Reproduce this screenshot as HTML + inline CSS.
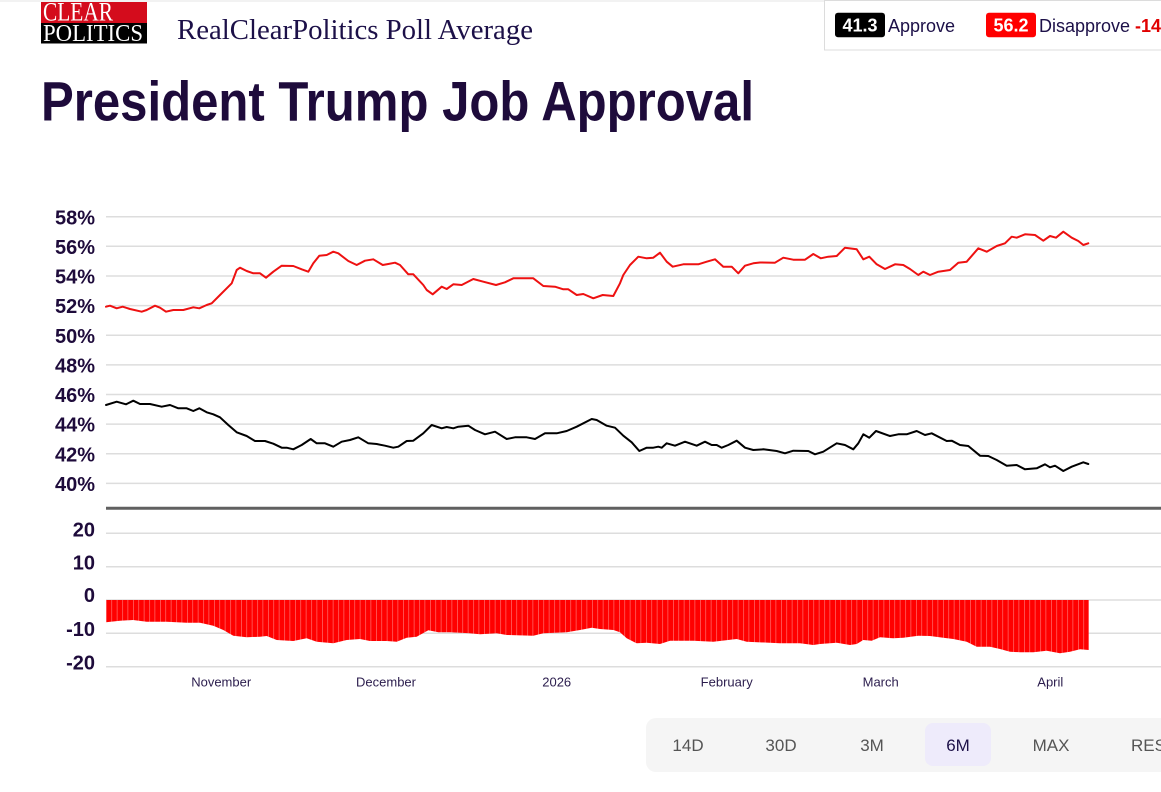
<!DOCTYPE html>
<html><head><meta charset="utf-8"><style>
html,body{margin:0;padding:0;background:#fff;width:1161px;height:792px;overflow:hidden}
svg{display:block}
</style></head><body>
<svg width="1161" height="792" viewBox="0 0 1161 792" xmlns="http://www.w3.org/2000/svg">
<defs>
<pattern id="bp" patternUnits="userSpaceOnUse" x="106" y="0" width="5.4" height="20">
<rect x="0" y="0" width="5.4" height="20" fill="#ff0000"/>
<rect x="0" y="0" width="0.6" height="20" fill="#ff8080"/>
</pattern>
</defs>
<!-- top border -->
<line x1="0" y1="1" x2="1161" y2="1" stroke="#e6e6e6" stroke-width="1"/>
<!-- logo -->
<rect x="41" y="2" width="106" height="21" fill="#d40c1c"/>
<rect x="41" y="23" width="106" height="20.5" fill="#000"/>
<text x="43" y="20.5" font-family="Liberation Serif, serif" font-size="26" fill="#fff" textLength="70" lengthAdjust="spacingAndGlyphs">CLEAR</text>
<text x="43" y="41" font-family="Liberation Serif, serif" font-size="24" fill="#fff" textLength="100" lengthAdjust="spacingAndGlyphs">POLITICS</text>
<text x="177" y="39" font-family="Liberation Serif, serif" font-size="28" fill="#1c1048" textLength="356" lengthAdjust="spacingAndGlyphs">RealClearPolitics Poll Average</text>
<!-- top right box -->
<rect x="824.5" y="0.5" width="400" height="49.5" fill="#fff" stroke="#dcdcdc" stroke-width="1"/>
<rect x="835" y="12.7" width="50" height="24.6" rx="3" fill="#000"/>
<text x="860" y="31.7" text-anchor="middle" font-family="Liberation Sans, sans-serif" font-weight="bold" font-size="18" fill="#fff">41.3</text>
<text x="888" y="32" font-family="Liberation Sans, sans-serif" font-size="18" fill="#1c1048">Approve</text>
<rect x="986" y="12.7" width="50" height="24.6" rx="3" fill="#ff0000"/>
<text x="1011" y="31.7" text-anchor="middle" font-family="Liberation Sans, sans-serif" font-weight="bold" font-size="18" fill="#fff">56.2</text>
<text x="1039" y="32" font-family="Liberation Sans, sans-serif" font-size="18" fill="#1c1048">Disapprove</text>
<text x="1135" y="32" font-family="Liberation Sans, sans-serif" font-weight="bold" font-size="18" fill="#e00000">-14</text>
<!-- title -->
<text x="41" y="120.7" font-family="Liberation Sans, sans-serif" font-weight="bold" font-size="56" fill="#1e0b3b" textLength="713" lengthAdjust="spacingAndGlyphs">President Trump Job Approval</text>

<!-- top chart gridlines -->
<g stroke="#dddddd" stroke-width="1.5">
<line x1="106" y1="216.7" x2="1161" y2="216.7"/>
<line x1="106" y1="246.3" x2="1161" y2="246.3"/>
<line x1="106" y1="276" x2="1161" y2="276"/>
<line x1="106" y1="305.6" x2="1161" y2="305.6"/>
<line x1="106" y1="335.2" x2="1161" y2="335.2"/>
<line x1="106" y1="364.9" x2="1161" y2="364.9"/>
<line x1="106" y1="394.5" x2="1161" y2="394.5"/>
<line x1="106" y1="424.1" x2="1161" y2="424.1"/>
<line x1="106" y1="453.8" x2="1161" y2="453.8"/>
<line x1="106" y1="483.4" x2="1161" y2="483.4"/>
</g>
<g font-family="Liberation Sans, sans-serif" font-weight="bold" font-size="20" fill="#1e0b3b" text-anchor="end">
<text x="95" y="224.3">58%</text>
<text x="95" y="253.9">56%</text>
<text x="95" y="283.6">54%</text>
<text x="95" y="313.2">52%</text>
<text x="95" y="342.8">50%</text>
<text x="95" y="372.5">48%</text>
<text x="95" y="402.1">46%</text>
<text x="95" y="431.7">44%</text>
<text x="95" y="461.4">42%</text>
<text x="95" y="491">40%</text>
</g>
<!-- disapprove line -->
<polyline fill="none" stroke="#ee1111" stroke-width="2" stroke-linejoin="round" stroke-linecap="round" points="106,306.7 110,305.7 116.7,308.3 122.7,306.7 130,309 141.7,311.7 146.7,310 155,305.7 160,307.7 166,311.7 173.3,310 183.3,310 193.3,307.3 199.3,308.3 206.7,305 211.7,303.3 220,295 226.7,288.3 231.7,283.3 236.7,270 240,267.7 246.7,271 253.3,273.3 260,273.3 266,277.7 273.3,271.7 281.7,265.7 293.3,266 301.7,269.3 308.3,271.7 313.3,263.3 319.3,255.7 326.7,255 333.3,251.7 338.3,253.3 348.3,261 356.7,265 365,260.7 373.3,259.3 382.7,265 388.3,264 395,262.7 400,265 408.3,274.3 413.3,274.3 423.3,285 426.7,290 432.7,294.3 441.7,286.7 446.7,289 453.3,284.3 461.7,285 473.3,279 483.3,281.7 496,285 505,282.3 513.3,278.3 533.3,278.3 543.3,286 555,286.7 563.3,289.3 568.3,289.3 576.7,295 583.3,294 593.3,298.3 602.7,295 613.3,296 620,283.3 623.3,275 630,265 638.3,256.7 646.7,258.3 653.3,257.7 660,252.7 666.7,261.7 672.7,266.7 683.3,264.3 698.3,264.3 706.7,261.7 715,259.3 723.3,266.7 731.7,266.7 738.3,273.3 745,265.7 753.3,263.3 760,262.5 775,262.7 783.3,257.7 793.3,259.7 805,259.7 813.3,254 820.7,258.3 828.3,256.7 836.7,256 845,247.7 856.7,249.3 863.3,259.3 869.3,256.7 876.7,264.3 885,269 895,264.3 903.3,265 910,269 918.3,275 923.3,271.7 930,275 938.3,271.7 950,270 958.3,262.7 966.7,261.7 978.3,248.3 986.7,251.7 996.7,246 1005,243.3 1011.7,236.7 1016.7,237.7 1025,234.3 1035,235 1043.3,240.7 1050,236 1056,237.7 1063.3,231.7 1071.7,237.7 1078.3,241 1083.3,245 1088.3,243.3"/>
<!-- approve line -->
<polyline fill="none" stroke="#000" stroke-width="2" stroke-linejoin="round" stroke-linecap="round" points="106,405 116.7,401.7 126,404.3 133.3,400.7 140,404 150,404 161.7,406.7 170,405 178.3,408.3 186.7,408.3 193.3,411 199.3,408.3 206.7,412.3 213.3,414.3 220,417.3 228.3,425 236.7,432.3 246.7,436 255,441 265,441 273.3,443.7 281.7,447.7 286.7,447.7 293.3,449.3 301.7,445 310.7,439 316.7,443.3 325,443.3 333.3,446.7 341.7,441.7 350,440 358.3,437.3 368.3,443.3 376.7,444 385,445.7 393.3,447.7 398.3,446.7 406.7,441 413.3,440.7 423.3,433.3 431.7,425 441.7,428.3 446.7,427 453.3,428.3 458.3,426.7 468.3,425.7 475,430 485,434.3 495,431.7 506.7,439 515,437.3 526.7,437.3 535,439 545,433.3 556.7,433.3 566.7,431 576.7,426.7 591.7,419 596.7,420 606.7,425.7 615,427.7 623.3,435.7 631.7,442.3 639.3,451 646.7,447.7 653.3,447.7 658.3,446.7 661.7,447.7 666.7,443.3 675,445.7 685,441.7 696.7,445.7 705,441.7 711.7,445 716.7,445 721.7,447.7 728.3,445 736.7,440.7 745,447.7 753.3,450 763.3,449.3 776.7,451 785,453.3 793.3,450.7 808.3,451 815,454.3 823.3,451.7 836.7,443.3 845,445 853.3,449.3 858.3,443.3 863.3,434.3 869.3,437.7 876,431 890,436 898.3,434.3 906.7,434.3 916.7,431 925,435 931.7,433.3 946.7,441 951.7,440.7 960,445 968.3,446 980,455.7 988.3,456 996.7,460 1006.7,465.7 1016.7,465 1025,469.3 1036.7,468.3 1045,464.3 1050,467.3 1055,465.7 1063.3,471 1071.7,466.7 1083.3,462.3 1088.3,464"/>

<!-- separator -->
<line x1="106" y1="508.3" x2="1161" y2="508.3" stroke="#606060" stroke-width="3"/>

<!-- bottom chart gridlines -->
<g stroke="#dddddd" stroke-width="1.5">
<line x1="106" y1="533.3" x2="1161" y2="533.3"/>
<line x1="106" y1="566.7" x2="1161" y2="566.7"/>
<line x1="106" y1="600" x2="1161" y2="600"/>
<line x1="106" y1="633.3" x2="1161" y2="633.3"/>
<line x1="106" y1="666.7" x2="1161" y2="666.7"/>
</g>
<g font-family="Liberation Sans, sans-serif" font-weight="bold" font-size="20" fill="#1e0b3b" text-anchor="end">
<text x="95" y="536.3">20</text>
<text x="95" y="569.6">10</text>
<text x="95" y="602">0</text>
<text x="95" y="636">-10</text>
<text x="95" y="669.4">-20</text>
</g>
<!-- spread bars -->
<polygon fill="url(#bp)" points="106,600 106,622.3 120,620.7 133,620 146.7,621.7 166.7,621.7 186.7,622.7 200,622.7 213.3,625.7 223.3,630 233.3,635.7 246.7,637.3 260,636.7 266.7,636 276.7,640 293.3,641 306.7,638.3 316.7,641.7 333.3,643.3 346.7,640 360,639 370,641 386.7,641 396.7,641.7 406.7,637.7 416.7,636.7 428.3,630.3 438.3,632.3 450,632.3 470,633.3 480,634.3 496.7,633.3 506.7,635 533.3,635.7 543.3,633.3 566.7,632.3 580,630 591.7,627.7 600,629 613.3,630 620,632.3 626.7,638.3 636.7,643.3 646.7,642.7 660,644 670,640.7 693.3,640.7 713.3,641.7 736.7,639 746.7,641.7 780,643.3 800,643.3 813.3,645 820,644 836.7,642.7 850,645 856.7,644 863.3,640 871.7,640.7 880,637.3 893.3,638.3 903.3,637.7 918.3,635.7 930,636 943.3,637.7 953.3,639 966.7,641.7 976.7,646.7 990,646.7 1000,649 1010,651.7 1020,652.3 1033.3,652.3 1046.7,650.7 1060,653.3 1070,651.7 1080,649.3 1088.7,650 1088.7,600"/>

<!-- x labels -->
<g font-family="Liberation Sans, sans-serif" font-size="13" fill="#2b1d4d" text-anchor="middle">
<text x="221.2" y="686.7">November</text>
<text x="386" y="686.7">December</text>
<text x="556.7" y="686.7">2026</text>
<text x="726.7" y="686.7">February</text>
<text x="880.7" y="686.7">March</text>
<text x="1050.3" y="686.7">April</text>
</g>

<!-- range buttons -->
<rect x="646" y="718" width="600" height="54" rx="10" fill="#f5f5f5"/>
<rect x="925" y="723" width="66" height="43" rx="8" fill="#eeebfb"/>
<g font-family="Liberation Sans, sans-serif" font-size="17" fill="#555555" text-anchor="middle">
<text x="688" y="751">14D</text>
<text x="781" y="751">30D</text>
<text x="872" y="751">3M</text>
<text x="958" y="751" fill="#1c1048">6M</text>
<text x="1051" y="751">MAX</text>
<text x="1131" y="751" text-anchor="start">RESET</text>
</g>
</svg>
</body></html>
